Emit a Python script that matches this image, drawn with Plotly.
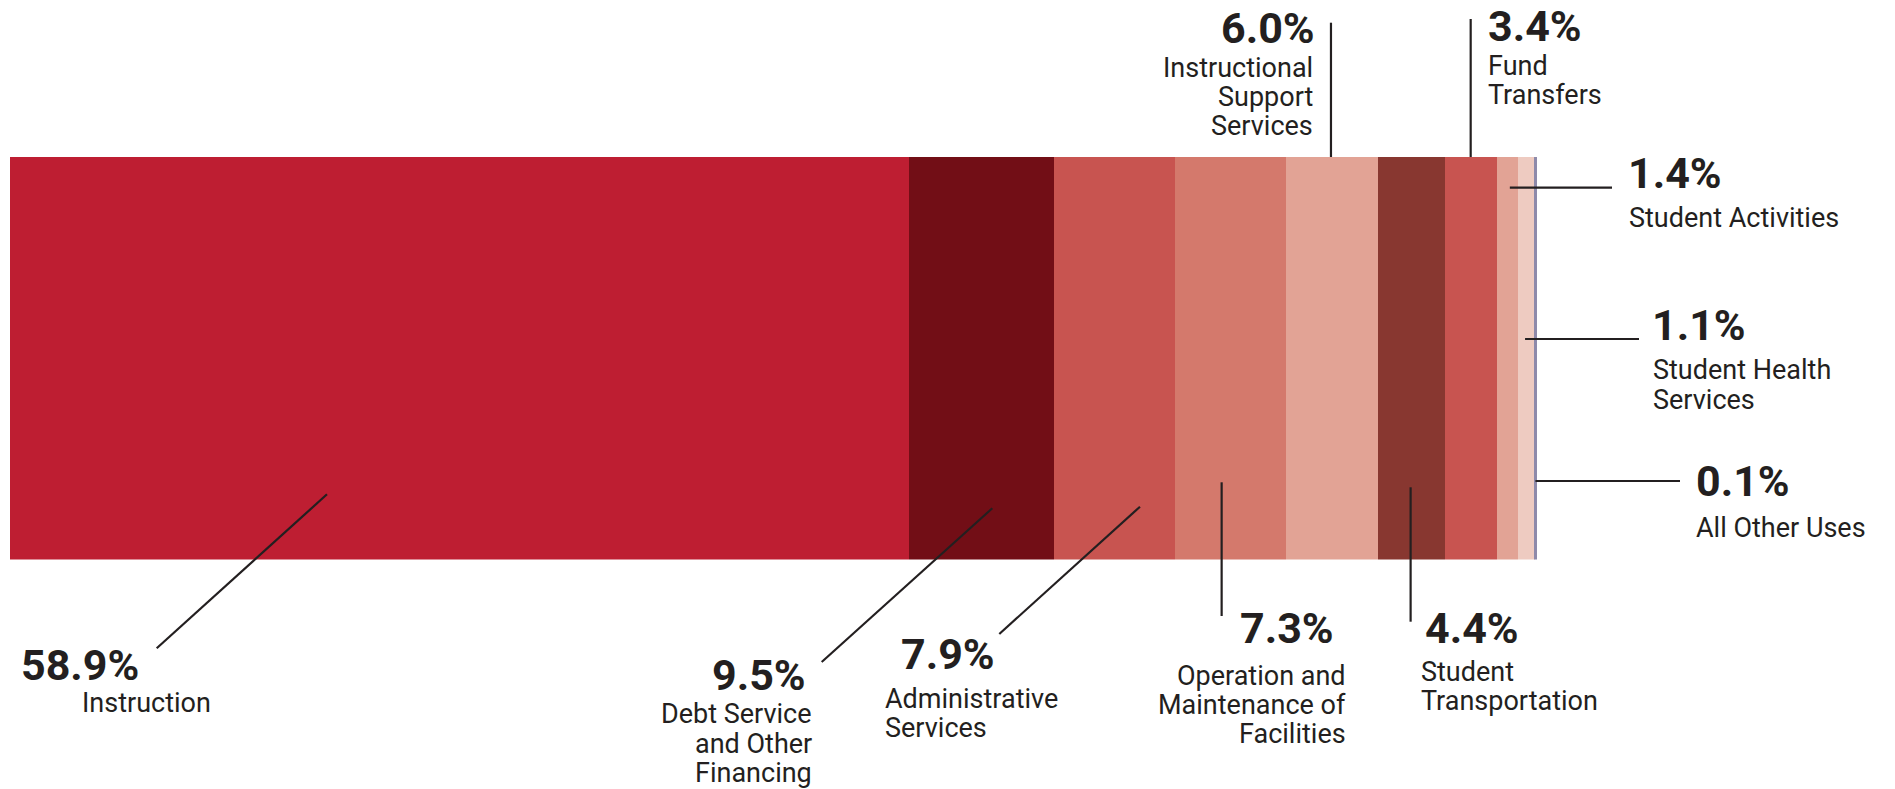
import plotly.graph_objects as go

# ---------------- data ----------------
categories = [
    "Instruction",
    "Debt Service and Other Financing",
    "Administrative Services",
    "Operation and Maintenance of Facilities",
    "Instructional Support Services",
    "Student Transportation",
    "Fund Transfers",
    "Student Activities",
    "Student Health Services",
    "All Other Uses",
]
values = [58.9, 9.5, 7.9, 7.3, 6.0, 4.4, 3.4, 1.4, 1.1, 0.1]
label_lines = [
    ["Instruction"],
    ["Debt Service", "and Other", "Financing"],
    ["Administrative", "Services"],
    ["Operation and", "Maintenance of", "Facilities"],
    ["Instructional", "Support", "Services"],
    ["Student", "Transportation"],
    ["Fund", "Transfers"],
    ["Student Activities"],
    ["Student Health", "Services"],
    ["All Other Uses"],
]
colors = ["#BE1E32", "#720E16", "#C85450", "#D4796C", "#E2A395",
          "#883730", "#C85450", "#E2A395", "#EECBC1", "#8E8AAA"]

# ---------------- layout / style ----------------
W, H = 1895, 789
X0_PX, PX_PER_UNIT = 9.5, 15.27          # where 0 % sits and px per %
XRANGE = [-X0_PX / PX_PER_UNIT, (W - X0_PX) / PX_PER_UNIT]
BAR_TOP, BAR_BOTTOM = 157, 559.5
INK = "#231F20"
FONT = "Roboto"
PCT_SIZE, LBL_SIZE, PITCH = 43, 27, 29.2

# leader anchor (fraction of segment, y px), leader outer end (x px or None = vertical, y px),
# percentage text (x, centre y, anchor), label text (x, first-line centre y, anchor)
spec = [
    dict(f=0.353, ay=494.3, ex=156.7, ey=648.3, px=20, py=665.3, pa="left", lx=80.5, ly=702.8, la="left"),
    dict(f=0.575, ay=508.3, ex=821.7, ey=662.0, px=806.5, py=674.5, pa="right", lx=812.5, ly=714.3, la="right"),
    dict(f=0.713, ay=506.7, ex=999.3, ey=634.0, px=900, py=653.8, pa="left", lx=884, ly=698.7, la="left"),
    dict(f=0.422, ay=482.3, ex=None, ey=616.0, px=1238.5, py=628.3, pa="left", lx=1347, ly=675.5, la="right"),
    dict(f=0.490, ay=BAR_TOP, ex=None, ey=22.7, px=1316, py=28.0, pa="right", lx=1313.5, ly=67.5, la="right"),
    dict(f=0.490, ay=487.3, ex=None, ey=621.7, px=1423.5, py=628.3, pa="left", lx=1419.5, ly=672.0, la="left"),
    dict(f=0.497, ay=BAR_TOP, ex=None, ey=19.0, px=1486.5, py=26.0, pa="left", lx=1487, ly=65.5, la="left"),
    dict(f=0.610, ay=187.7, ex=1612, ey=187.7, px=1626.5, py=172.5, pa="left", lx=1628, ly=218.0, la="left"),
    dict(f=0.410, ay=339.0, ex=1639, ey=339.0, px=1650.5, py=324.5, pa="left", lx=1652, ly=370.5, la="left"),
    dict(f=0.300, ay=481.0, ex=1680, ey=481.0, px=1694.5, py=481.0, pa="left", lx=1695, ly=527.5, la="left"),
]


def px_to_x(p):
    return (p - X0_PX) / PX_PER_UNIT


def py_to_paper(p):
    return 1 - p / H


fig = go.Figure()
for cat, val, col in zip(categories, values, colors):
    fig.add_trace(go.Bar(
        x=[val], y=["Uses"], orientation="h", name=cat,
        marker=dict(color=col, line=dict(width=0)), width=1,
        hoverinfo="name+x",
    ))

shapes, annotations = [], []
start = 0.0
for val, lines, s in zip(values, label_lines, spec):
    ax = start + s["f"] * val
    ex = ax if s["ex"] is None else px_to_x(s["ex"])
    shapes.append(dict(type="line", xref="x", yref="paper",
                       x0=ax, y0=py_to_paper(s["ay"]), x1=ex, y1=py_to_paper(s["ey"]),
                       line=dict(color=INK, width=2.2)))
    annotations.append(dict(
        text=f"{val:.1f}%", xref="paper", yref="paper",
        x=s["px"] / W, y=py_to_paper(s["py"]), xanchor=s["pa"], yanchor="middle",
        showarrow=False, borderpad=0,
        font=dict(family=FONT, size=PCT_SIZE, color=INK, weight=700)))
    for i, line in enumerate(lines):
        annotations.append(dict(
            text=line, xref="paper", yref="paper",
            x=s["lx"] / W, y=py_to_paper(s["ly"] + i * PITCH),
            xanchor=s["la"], yanchor="middle", align=s["la"],
            showarrow=False, borderpad=0,
            font=dict(family=FONT, size=LBL_SIZE, color=INK)))
    start += val

fig.update_layout(
    width=W, height=H, autosize=False,
    margin=dict(l=0, r=0, t=0, b=0),
    paper_bgcolor="white", plot_bgcolor="white",
    barmode="stack", bargap=0, showlegend=False,
    xaxis=dict(range=XRANGE, visible=False, fixedrange=True),
    yaxis=dict(domain=[py_to_paper(BAR_BOTTOM), py_to_paper(BAR_TOP)],
               range=[-0.5, 0.5], visible=False, fixedrange=True),
    shapes=shapes, annotations=annotations,
)

fig.write_html("out.html", config={"displayModeBar": False},
               post_script="document.body.style.margin='0';document.body.style.overflow='hidden';")
